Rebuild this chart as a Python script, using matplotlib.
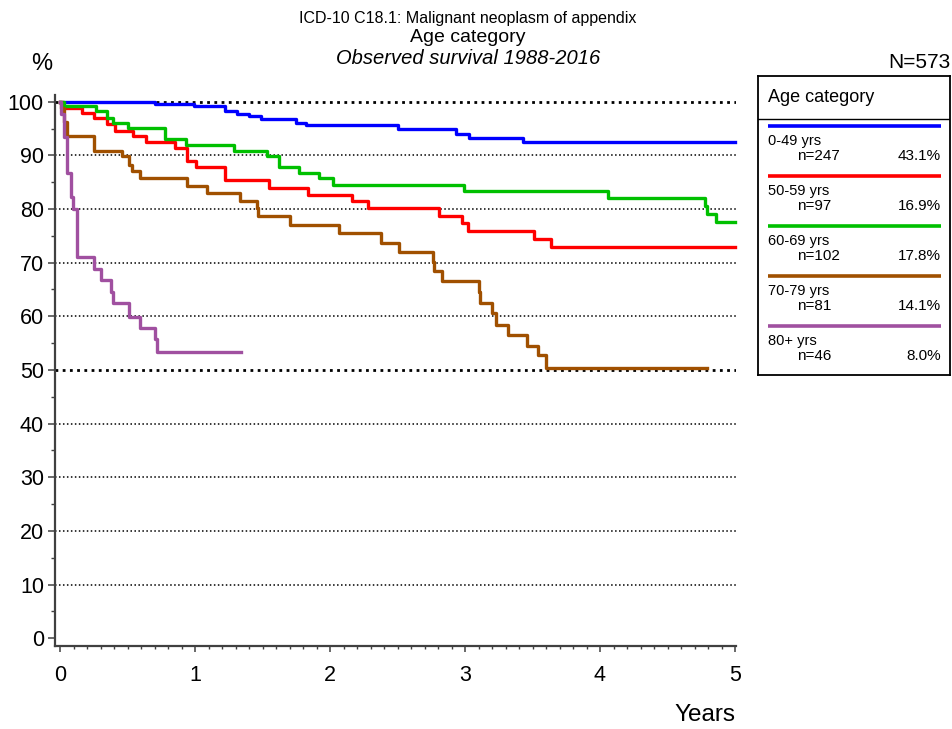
import matplotlib
matplotlib.use('Agg')
import matplotlib.pyplot as plt
from matplotlib.ticker import MultipleLocator

plt.rcParams['font.family'] = ['Liberation Sans', 'DejaVu Sans']

W, H = 952, 729

# groups shown in the legend
groups = ['0-49 yrs', '50-59 yrs', '60-69 yrs', '70-79 yrs', '80+ yrs']
counts = [247, 97, 102, 81, 46]
shares = ['43.1%', '16.9%', '17.8%', '14.1%', '8.0%']
colors = ['#0000ff', '#ff0000', '#00c000', '#a05000', '#a050a0']

# survival curves (years, % surviving), step functions
t_0_49 = [0, 0.70, 0.99, 1.22, 1.31, 1.40, 1.49, 1.75, 1.82, 2.50, 2.93, 3.03, 3.43, 5.0]
s_0_49 = [100, 99.6, 99.2, 98.3, 97.8, 97.3, 96.7, 96.1, 95.6, 95.0, 93.9, 93.3, 92.5, 92.5]

t_50_59 = [0, 0.02, 0.165, 0.25, 0.35, 0.41, 0.54, 0.64, 0.85, 0.94, 1.01, 1.22, 1.55,
           1.84, 2.16, 2.28, 2.81, 2.98, 3.02, 3.51, 3.64, 5.0]
s_50_59 = [100, 98.8, 97.9, 96.9, 95.8, 94.6, 93.6, 92.4, 91.3, 89.0, 87.8, 85.4, 84.0,
           82.7, 81.5, 80.1, 78.7, 77.4, 75.9, 74.5, 72.9, 72.9]

t_60_69 = [0, 0.03, 0.27, 0.35, 0.39, 0.50, 0.78, 0.93, 1.29, 1.53, 1.62, 1.77, 1.92,
           2.02, 2.99, 4.06, 4.78, 4.79, 4.86, 5.0]
s_60_69 = [100, 99.2, 98.2, 97.0, 96.0, 95.1, 93.0, 91.9, 90.9, 89.9, 87.8, 86.8, 85.7,
           84.5, 83.4, 82.0, 80.5, 79.1, 77.5, 77.5]

t_70_79 = [0, 0.01, 0.03, 0.05, 0.25, 0.46, 0.51, 0.53, 0.59, 0.94, 1.09, 1.33, 1.46,
           1.47, 1.70, 2.07, 2.38, 2.51, 2.76, 2.77, 2.83, 3.10, 3.11, 3.20, 3.23, 3.32,
           3.46, 3.54, 3.60, 4.79]
s_70_79 = [100, 98.8, 96.3, 93.6, 90.8, 89.9, 88.2, 87.1, 85.7, 84.3, 82.9, 81.5, 80.1,
           78.7, 77.1, 75.5, 73.7, 72.0, 70.2, 68.4, 66.5, 64.5, 62.4, 60.6, 58.4, 56.5,
           54.5, 52.7, 50.4, 50.4]

t_80 = [0, 0.01, 0.03, 0.054, 0.079, 0.099, 0.128, 0.254, 0.30, 0.375, 0.39, 0.51, 0.59,
        0.70, 0.72, 1.34]
s_80 = [100, 97.8, 93.5, 86.7, 82.3, 80.0, 71.1, 68.9, 66.8, 64.6, 62.4, 59.9, 57.8,
        55.7, 53.4, 53.4]

curves = [(t_0_49, s_0_49), (t_50_59, s_50_59), (t_60_69, s_60_69),
          (t_70_79, s_70_79), (t_80, s_80)]

grid_levels = [10, 20, 30, 40, 50, 60, 70, 80, 90, 100]


def fx(x):
    return x / W


def fy(y):
    return 1 - y / H


fig = plt.figure(figsize=(W / 100, H / 100), dpi=100)
ax = fig.add_axes([fx(55), fy(646), 681 / W, 551 / H])

spine_col = '#404040'
for lvl in grid_levels:
    if lvl in (50, 100):
        ax.axhline(lvl, color='black', lw=2.0, linestyle=(0, (1, 1.6)), zorder=1)
    else:
        ax.axhline(lvl, color='black', lw=1.1, linestyle=(0, (1, 1.6)), zorder=1)

for (t, s), c in zip(curves, colors):
    ax.step(t, s, where='post', color=c, lw=2.4, clip_on=False, zorder=3)

ax.set_xlim(-5 / 135, 5 + 1 / 135)
ax.set_ylim(-1.45, 101.25)

ax.spines['top'].set_visible(False)
ax.spines['right'].set_visible(False)
for sp in ('left', 'bottom'):
    ax.spines[sp].set_color(spine_col)
    ax.spines[sp].set_linewidth(1.6)

ax.xaxis.set_major_locator(MultipleLocator(1))
ax.xaxis.set_minor_locator(MultipleLocator(0.1))
ax.yaxis.set_major_locator(MultipleLocator(10))
ax.yaxis.set_minor_locator(MultipleLocator(5))
ax.set_xticks(range(0, 6))
ax.set_yticks(range(0, 101, 10))
ax.tick_params(axis='x', which='major', length=4, width=1.1, color=spine_col,
               labelsize=15.5, pad=10)
ax.tick_params(axis='x', which='minor', length=2.5, width=1.0, color=spine_col)
ax.tick_params(axis='y', which='major', length=5, width=1.1, color=spine_col,
               labelsize=15.5, pad=3)
ax.tick_params(axis='y', which='minor', length=3, width=1.0, color=spine_col)

# titles and labels
fig.text(fx(468), fy(23.5), 'ICD-10 C18.1: Malignant neoplasm of appendix',
         ha='center', va='baseline', fontsize=11.5)
fig.text(fx(468), fy(42), 'Age category', ha='center', va='baseline', fontsize=14)
fig.text(fx(468), fy(64.5), 'Observed survival 1988-2016', ha='center', va='baseline',
         fontsize=14.5, style='italic')
fig.text(fx(42), fy(70), '%', ha='center', va='baseline', fontsize=17)
fig.text(fx(950), fy(68), 'N=573', ha='right', va='baseline', fontsize=15)
fig.text(fx(735), fy(721), 'Years', ha='right', va='baseline', fontsize=17.5)

# legend box drawn in pixel units
lx0, ly0, lx1, ly1 = 758, 76, 950, 375
lax = fig.add_axes([fx(lx0), fy(ly1), (lx1 - lx0) / W, (ly1 - ly0) / H])
lax.set_xlim(0, lx1 - lx0)
lax.set_ylim(ly1 - ly0, 0)
lax.set_xticks([])
lax.set_yticks([])
for sp in lax.spines.values():
    sp.set_color('black')
    sp.set_linewidth(1.3)
lax.text(10, 26, 'Age category', fontsize=13, va='baseline', ha='left')
lax.axhline(43, color='black', lw=1.0)
for i, (g, n, p, c) in enumerate(zip(groups, counts, shares, colors)):
    y = 50 + 50 * i
    lax.plot([9.7, 182.7], [y, y], color=c, lw=2.6, solid_capstyle='butt')
    lax.text(10, y + 18.5, g, fontsize=10.5, va='baseline', ha='left')
    lax.text(38.7, y + 34, f'n={n}', fontsize=11, va='baseline', ha='left')
    lax.text(182.7, y + 34, p, fontsize=11, va='baseline', ha='right')

fig.savefig('out.png', dpi=100)
